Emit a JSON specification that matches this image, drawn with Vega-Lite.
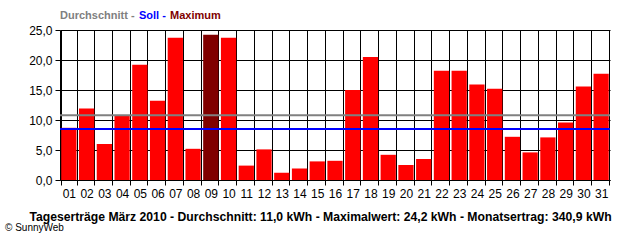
{
  "$schema": "https://vega.github.io/schema/vega-lite/v6.json",
  "width": 550,
  "height": 150,
  "autosize": {"type": "none"},
  "padding": {"left": 60, "top": 30, "right": 30, "bottom": 60},
  "background": "white",
  "config": {
    "view": {"stroke": null},
    "font": "Liberation Sans",
    "axisY": {
      "values": [0, 5, 10, 15, 20, 25],
      "labelExpr": "replace(format(datum.value, '.1f'), '.', ',')",
      "labelOverlap": false,
      "grid": true,
      "gridColor": "black",
      "gridOpacity": 1,
      "tickSize": 5,
      "tickColor": "black",
      "domainColor": "black",
      "labelFontSize": 12,
      "labelColor": "black",
      "labelPadding": 3,
      "labelFont": "Liberation Sans",
      "title": null
    }
  },
  "title": {
    "text": "© SunnyWeb",
    "orient": "bottom",
    "anchor": "start",
    "frame": "group",
    "dx": -55,
    "offset": 1,
    "fontSize": 10,
    "fontWeight": "normal",
    "color": "black",
    "font": "Liberation Sans"
  },
  "datasets": {
    "tage": [
      {"tag": "01", "kwh": 8.7, "serie": "Tag"},
      {"tag": "02", "kwh": 11.9, "serie": "Tag"},
      {"tag": "03", "kwh": 6.0, "serie": "Tag"},
      {"tag": "04", "kwh": 10.8, "serie": "Tag"},
      {"tag": "05", "kwh": 19.2, "serie": "Tag"},
      {"tag": "06", "kwh": 13.2, "serie": "Tag"},
      {"tag": "07", "kwh": 23.7, "serie": "Tag"},
      {"tag": "08", "kwh": 5.2, "serie": "Tag"},
      {"tag": "09", "kwh": 24.2, "serie": "Maximum"},
      {"tag": "10", "kwh": 23.7, "serie": "Tag"},
      {"tag": "11", "kwh": 2.4, "serie": "Tag"},
      {"tag": "12", "kwh": 5.1, "serie": "Tag"},
      {"tag": "13", "kwh": 1.2, "serie": "Tag"},
      {"tag": "14", "kwh": 1.9, "serie": "Tag"},
      {"tag": "15", "kwh": 3.1, "serie": "Tag"},
      {"tag": "16", "kwh": 3.2, "serie": "Tag"},
      {"tag": "17", "kwh": 15.0, "serie": "Tag"},
      {"tag": "18", "kwh": 20.5, "serie": "Tag"},
      {"tag": "19", "kwh": 4.2, "serie": "Tag"},
      {"tag": "20", "kwh": 2.5, "serie": "Tag"},
      {"tag": "21", "kwh": 3.5, "serie": "Tag"},
      {"tag": "22", "kwh": 18.2, "serie": "Tag"},
      {"tag": "23", "kwh": 18.2, "serie": "Tag"},
      {"tag": "24", "kwh": 15.9, "serie": "Tag"},
      {"tag": "25", "kwh": 15.2, "serie": "Tag"},
      {"tag": "26", "kwh": 7.2, "serie": "Tag"},
      {"tag": "27", "kwh": 4.6, "serie": "Tag"},
      {"tag": "28", "kwh": 7.1, "serie": "Tag"},
      {"tag": "29", "kwh": 9.6, "serie": "Tag"},
      {"tag": "30", "kwh": 15.6, "serie": "Tag"},
      {"tag": "31", "kwh": 17.7, "serie": "Tag"}
    ],
    "linien": [
      {"serie": "Durchschnitt", "wert": 10.8},
      {"serie": "Soll", "wert": 8.5}
    ]
  },
  "layer": [
    {
      "data": {"name": "tage"},
      "mark": {"type": "bar"},
      "encoding": {
        "x": {
          "field": "tag",
          "type": "ordinal",
          "sort": null,
          "scale": {"paddingInner": 0.14, "paddingOuter": 0.07},
          "axis": {
            "orient": "bottom",
            "labelAngle": 0,
            "tickBand": "extent",
            "tickSize": 5,
            "tickColor": "black",
            "domainColor": "black",
            "grid": true,
            "gridColor": "black",
            "gridOpacity": 1,
            "labelFontSize": 12,
            "labelColor": "black",
            "labelPadding": 3,
            "labelFont": "Liberation Sans",
            "title": "Tageserträge März 2010 - Durchschnitt: 11,0 kWh - Maximalwert: 24,2 kWh - Monatsertrag: 340,9 kWh",
            "titleFontSize": 12.2,
            "titleFontWeight": "bold",
            "titleColor": "black",
            "titleFont": "Liberation Sans",
            "titlePadding": 11,
            "titleX": 260,
            "titleAnchor": "middle"
          }
        },
        "y": {
          "field": "kwh",
          "type": "quantitative",
          "stack": null,
          "scale": {"domain": [0, 25], "nice": false},
          "axis": {"values": [0, 5, 10, 15, 20, 25]}
        },
        "color": {
          "field": "serie",
          "type": "nominal",
          "scale": {
            "domain": ["Durchschnitt", "Soll", "Maximum", "Tag"],
            "range": ["#808080", "#0000ff", "#800000", "#ff0000"]
          },
          "legend": {
            "values": ["Durchschnitt", "Soll", "Maximum"],
            "orient": "none",
            "legendX": 1,
            "legendY": -20,
            "direction": "horizontal",
            "title": null,
            "symbolSize": 0.01,
            "symbolOpacity": 0,
            "symbolStrokeWidth": 0,
            "labelOffset": -12,
            "columnPadding": 4,
            "gridAlign": "none",
            "labelFontSize": 11,
            "labelFontWeight": "bold",
            "labelFont": "Liberation Sans",
            "labelExpr": "datum.value === 'Maximum' ? datum.value : datum.value + ' -'",
            "encode": {
              "labels": {
                "update": {
                  "fill": {"signal": "datum.value === 'Soll' ? '#0000ff' : datum.value === 'Maximum' ? '#800000' : '#808080'"}
                }
              }
            }
          }
        }
      }
    },
    {
      "data": {"name": "linien"},
      "mark": {"type": "rule", "strokeWidth": 2},
      "encoding": {
        "y": {
          "field": "wert",
          "type": "quantitative",
          "stack": null,
          "axis": {"values": [0, 5, 10, 15, 20, 25]}
        },
        "color": {"field": "serie", "type": "nominal"}
      }
    }
  ]
}
